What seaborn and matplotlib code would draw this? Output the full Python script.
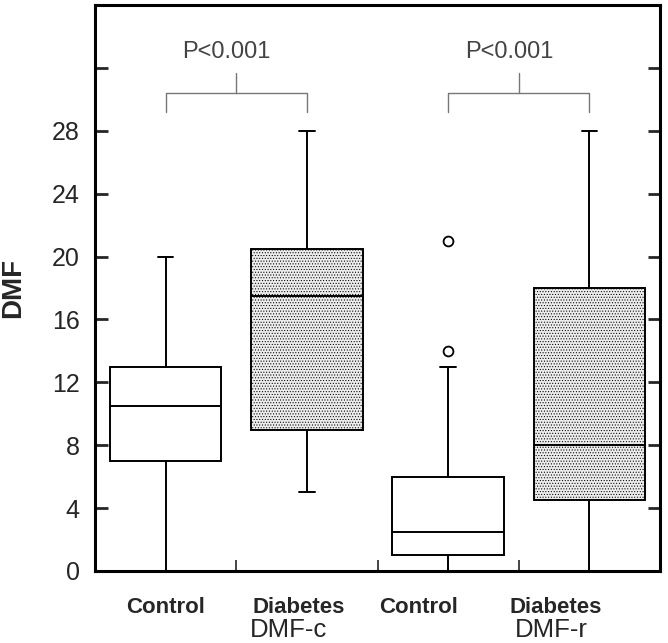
import numpy as np
import pandas as pd
import matplotlib
matplotlib.use("Agg")
import matplotlib.pyplot as plt
import seaborn as sns

# five-number summaries (low whisker, Q1, median, Q3, high whisker)
groups = ["Control DMF-c", "Diabetes DMF-c", "Control DMF-r", "Diabetes DMF-r"]
whisker_low = [0, 5, 0, 0]
q1 = [7, 9, 1, 4.5]
median = [10.5, 17.5, 2.5, 8]
q3 = [13, 20.5, 6, 18]
whisker_high = [20, 28, 13, 28]

# outliers (only the control group of DMF-r)
outlier_groups = ["Control DMF-r", "Control DMF-r"]
outlier_values = [14, 21]

tick_labels = ["Control", "Diabetes", "Control", "Diabetes"]
index_labels = ["DMF-c", "DMF-r"]
p_labels = ["P<0.001", "P<0.001"]
y_ticks = list(range(0, 37, 4))

sns.set_style("ticks")
plt.rcParams["font.family"] = ["Liberation Sans", "DejaVu Sans"]
plt.rcParams["hatch.linewidth"] = 0.45

rows = []
for g, a, b, c, d, e in zip(groups, whisker_low, q1, median, q3, whisker_high):
    for v in (a, b, c, d, e):
        rows.append({"group": g, "DMF": v})
df = pd.DataFrame(rows)

palette = {g: ("#ececec" if g.startswith("Diabetes") else "white") for g in groups}

fig = plt.figure(figsize=(6.68, 6.43), dpi=100)
ax = fig.add_axes([95 / 668, 72 / 643, 565 / 668, 566 / 643])

box_w = 0.79
sns.boxplot(data=df, x="group", y="DMF", hue="group", order=groups, hue_order=groups,
            palette=palette, legend=False, whis=(0, 100), width=box_w,
            linecolor="black", linewidth=1.4, ax=ax)

# stipple fill for the diabetes boxes
for patch, g in zip(ax.patches, groups):
    if g.startswith("Diabetes"):
        patch.set_hatch("......")

# shorter whisker caps
for line in ax.lines:
    x, y = line.get_data()
    x = np.asarray(x, dtype=float)
    y = np.asarray(y, dtype=float)
    if len(x) == 2 and y[0] == y[1] and 0 < abs(x[1] - x[0]) < box_w * 0.6:
        xc = x.mean()
        line.set_xdata([xc - 0.055, xc + 0.055])

# outliers
out_pos = [groups.index(g) for g in outlier_groups]
sns.scatterplot(x=out_pos, y=outlier_values, marker="o", s=50, facecolor="white",
                edgecolor="black", linewidth=1.3, ax=ax, zorder=5)

# significance brackets
for (i0, i1), label in zip([(0, 1), (2, 3)], p_labels):
    mid = (i0 + i1) / 2
    ax.plot([i0, i0, i1, i1], [29.2, 30.4, 30.4, 29.2], color="#777777", lw=1.0)
    ax.plot([mid, mid], [30.4, 31.7], color="#777777", lw=1.0)
    ax.text(mid - 0.07, 33.0, label, ha="center", va="center", fontsize=17, color="#444444")

ax.set_xlim(-0.5, 3.5)
ax.set_ylim(0, 36)
ax.set_yticks(y_ticks)
ax.set_yticklabels([str(v) if v <= 28 else "" for v in y_ticks], fontsize=18)
ax.set_xticks([0.5, 1.5, 2.5])
ax.set_xticklabels([])
ax.tick_params(axis="y", direction="in", length=9, width=2, left=True, right=True, pad=11)
ax.tick_params(axis="x", direction="in", length=8, width=1.2)
for s in ax.spines.values():
    s.set_visible(True)
    s.set_linewidth(2.2)
    s.set_color("black")

ax.set_xlabel("")
ax.set_ylabel("DMF", fontsize=20, fontweight="bold")
ax.yaxis.set_label_coords(-0.122, 0.5)

# category labels under the axis
trans = ax.get_xaxis_transform()
label_pos = [0.0, 0.94, 1.79, 2.76]
for xp, lab in zip(label_pos, tick_labels):
    ax.text(xp, -0.064, lab, transform=trans, ha="center", va="center",
            fontsize=16, fontweight="bold")
for xp, lab in zip([0.87, 2.73], index_labels):
    ax.text(xp, -0.104, lab, transform=trans, ha="center", va="center", fontsize=18.5)

fig.savefig("out.png", dpi=100, facecolor="white")
